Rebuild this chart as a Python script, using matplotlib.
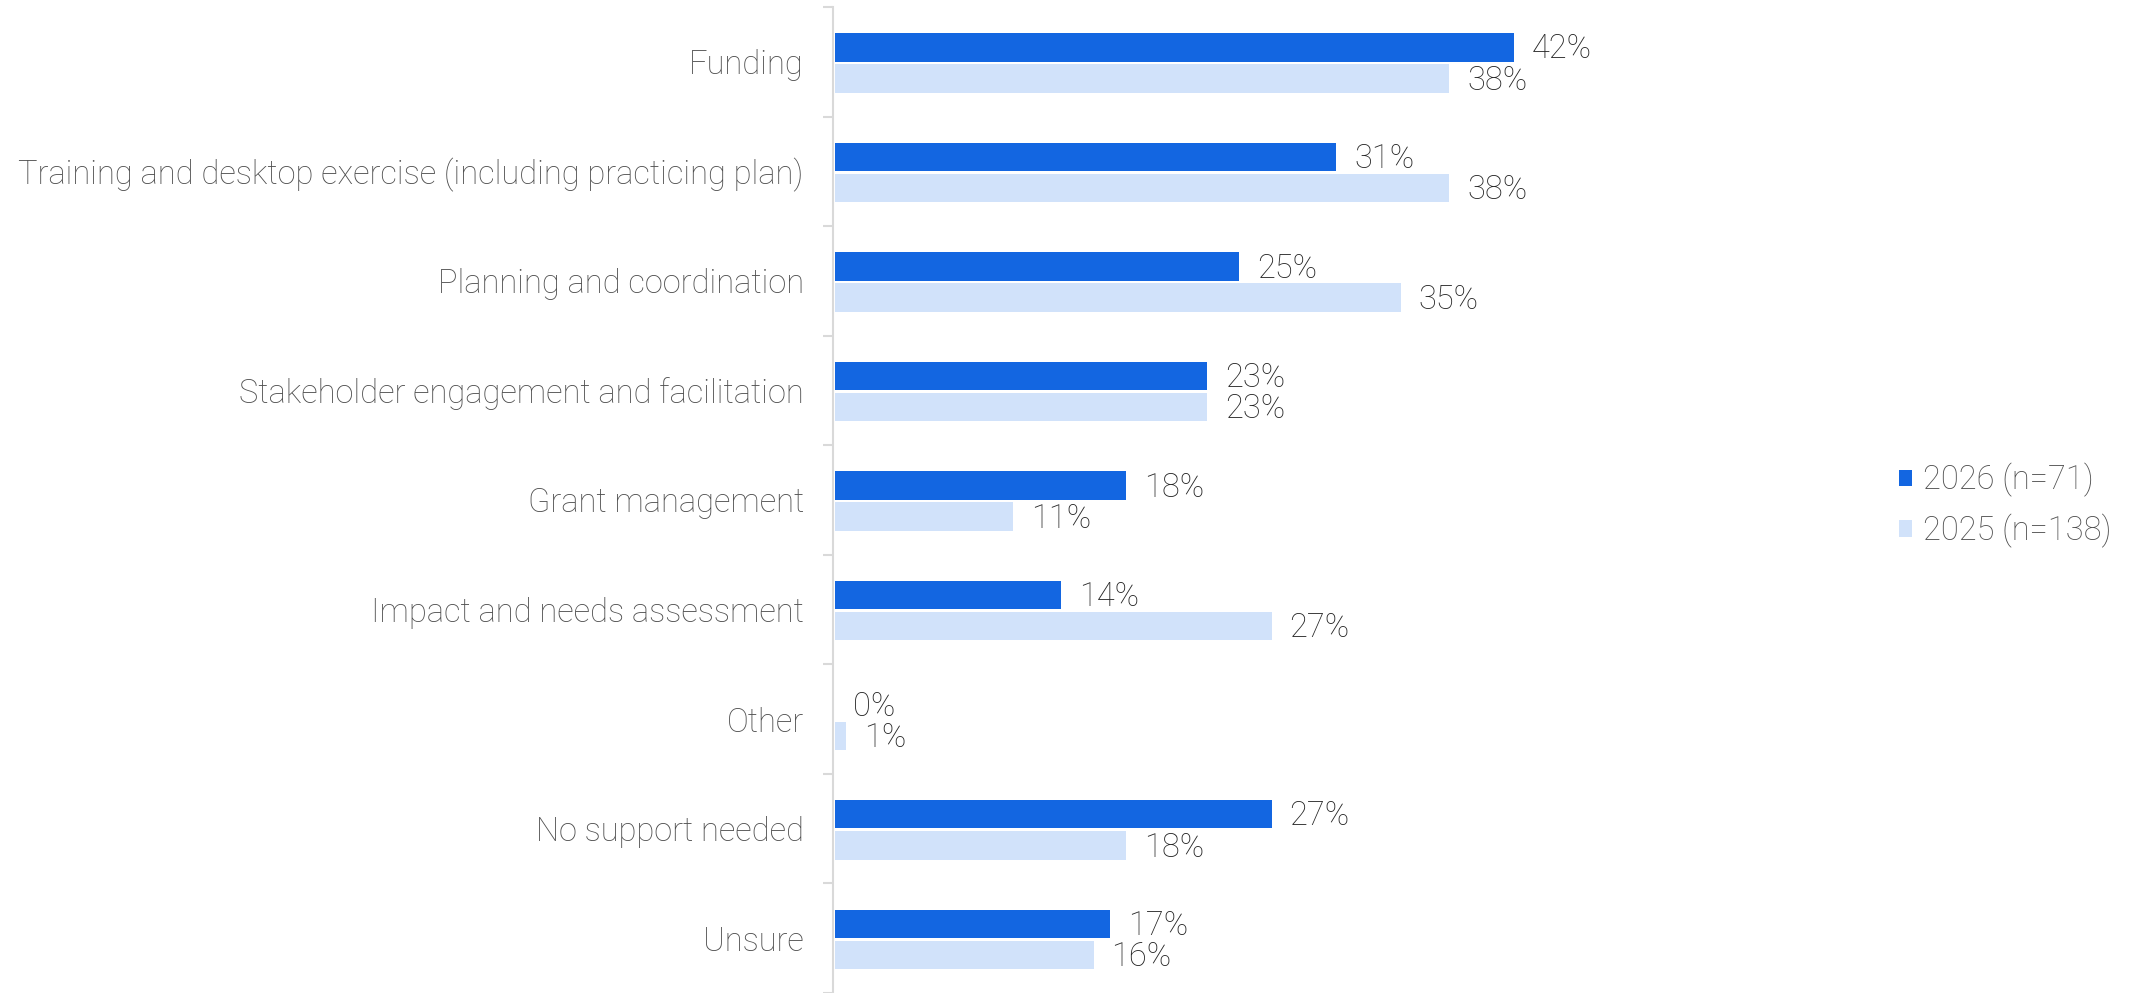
import numpy as np
import matplotlib
matplotlib.use("Agg")
import matplotlib.pyplot as plt
from matplotlib.patches import Patch

categories = [
    "Funding",
    "Training and desktop exercise (including practicing plan)",
    "Planning and coordination",
    "Stakeholder engagement and facilitation",
    "Grant management",
    "Impact and needs assessment",
    "Other",
    "No support needed",
    "Unsure",
]
vals_2026 = [42, 31, 25, 23, 18, 14, 0, 27, 17]
vals_2025 = [38, 38, 35, 23, 11, 27, 0.7, 18, 16]
series_labels = ["2026 (n=71)", "2025 (n=138)"]

dark = "#1366E1"
light = "#D1E2FA"
label_col = "#4f4f4f"
value_col = "#262626"

plt.rcParams["font.family"] = ["Roboto", "DejaVu Sans"]
plt.rcParams["font.weight"] = "light"
fs = 23.5

fig = plt.figure(figsize=(21.33, 9.93), dpi=100)
ax_left = 833 / 2133
px_per_pct = 16.17
xmax = 55
ax_w = xmax * px_per_pct / 2133
ax = fig.add_axes([ax_left, 0.0, ax_w, 0.993])

n = len(categories)
y = np.arange(n)
h = 0.26
gap = 0.012
b1 = ax.barh(y - h / 2 - gap + 0.01, vals_2026, height=h, color=dark, left=0.12)
b2 = ax.barh(y + h / 2 + gap + 0.01, vals_2025, height=h, color=light, left=0.12)

for bars, vals in ((b1, vals_2026), (b2, vals_2025)):
    for rect, v in zip(bars, vals):
        ax.text(v + 0.12 + 1.1, rect.get_y() + rect.get_height() / 2 + 0.02,
                f"{round(v + 0.001):.0f}%",
                va="center", ha="left", fontsize=fs, color=value_col,
                fontweight="light")

ax.set_ylim(n - 0.5, -0.5)
ax.set_xlim(0, xmax)
ax.set_yticks(y)
ax.set_yticklabels(categories, fontsize=fs, color=label_col, fontweight="light")
ax.tick_params(axis="y", which="major", length=0, pad=21)
ax.set_yticks(np.arange(-0.5, n, 1.0), minor=True)
ax.tick_params(axis="y", which="minor", length=7, width=1.5, color="#d9d9d9")
ax.set_xticks([])
for s in ("top", "right", "bottom"):
    ax.spines[s].set_visible(False)
ax.spines["left"].set_color("#d9d9d9")
ax.spines["left"].set_linewidth(1.5)

handles = [Patch(facecolor=dark), Patch(facecolor=light)]
leg = fig.legend(handles, series_labels, loc="center left",
                 bbox_to_anchor=(1899 / 2133, 0.491), frameon=False,
                 fontsize=fs, handlelength=0.4, handleheight=0.4,
                 handletextpad=0.34, labelspacing=0.49,
                 borderpad=0, borderaxespad=0)
for t in leg.get_texts():
    t.set_color(label_col)
    t.set_fontweight("light")

fig.savefig("out.png", dpi=100)
